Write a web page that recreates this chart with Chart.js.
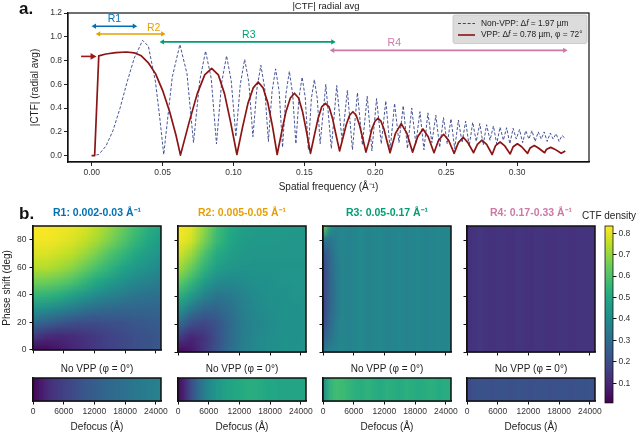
<!DOCTYPE html>
<html>
<head>
<meta charset="utf-8">
<script src="https://cdn.jsdelivr.net/npm/chart.js@4.4.1/dist/chart.umd.min.js"></script>
<style>
  html, body { margin: 0; padding: 0; background: #fff; overflow: hidden; }
  body { width: 640px; height: 438px; position: relative; }
  canvas { position: absolute; }
</style>
</head>
<body>
<script>
// ---- values ----
const xTicks = [0, 0.05, 0.10, 0.15, 0.20, 0.25, 0.30];
const yTicks = [0, 0.2, 0.4, 0.6, 0.8, 1.0, 1.2];

// non-VPP |CTF| radial average (dashed)
const nonVppK = [0, 0.005, 0.010, 0.015, 0.020, 0.025, 0.030, 0.0359, 0.040, 0.045, 0.048, 0.0508,
  0.0568, 0.0622, 0.0672, 0.0718, 0.0762, 0.0803, 0.0843, 0.0880, 0.0916, 0.0951, 0.0984, 0.1017,
  0.1048, 0.1079, 0.1108, 0.1137, 0.1165, 0.1193, 0.1220, 0.1246, 0.1272, 0.1297, 0.1322, 0.1346,
  0.1370, 0.1394, 0.1417, 0.1440, 0.1462, 0.1484, 0.1506, 0.1528, 0.1549, 0.1570, 0.1591, 0.1611,
  0.1651, 0.1690, 0.1728, 0.1766, 0.1803, 0.1839, 0.1874, 0.1909, 0.1943, 0.1976,
  0.2009, 0.2042, 0.2074, 0.2105, 0.2136, 0.2167, 0.2197, 0.2227, 0.2257, 0.2286,
  0.2315, 0.2343, 0.2371, 0.2399, 0.2427, 0.2454, 0.2481, 0.2507, 0.2534, 0.2560,
  0.2586, 0.2612, 0.2637, 0.2662, 0.2687, 0.2712, 0.2737, 0.2761, 0.2785, 0.2809,
  0.2833, 0.2856, 0.2880, 0.2903, 0.2926, 0.2949, 0.2972, 0.2994, 0.3017, 0.3039,
  0.3061, 0.3083, 0.3105, 0.3127, 0.3149, 0.3170, 0.3191, 0.3212, 0.3234, 0.3254,
  0.3275, 0.3296, 0.3317, 0.3335];
const nonVppV = [0, 0.01, 0.08, 0.21, 0.40, 0.62, 0.82, 0.97, 0.92, 0.62, 0.32, 0.01,
  0.66, 0.935, 0.69, 0.11, 0.63, 0.88, 0.65, 0.10, 0.61, 0.84, 0.63, 0.16,
  0.60, 0.81, 0.62, 0.16, 0.56, 0.76, 0.57, 0.12, 0.54, 0.73, 0.54, 0.07,
  0.52, 0.71, 0.52, 0.10, 0.49, 0.66, 0.49, 0.05, 0.48, 0.64, 0.48, 0.10,
  0.60, 0.06, 0.59, 0.12, 0.55, 0.05, 0.53, 0.09, 0.50, 0.04,
  0.48, 0.10, 0.46, 0.05, 0.44, 0.11, 0.42, 0.06, 0.40, 0.10,
  0.37, 0.05, 0.36, 0.11, 0.34, 0.07, 0.32, 0.10, 0.31, 0.06,
  0.30, 0.11, 0.29, 0.08, 0.28, 0.12, 0.27, 0.09, 0.26, 0.13,
  0.25, 0.10, 0.24, 0.13, 0.235, 0.10, 0.23, 0.14, 0.22, 0.11,
  0.21, 0.14, 0.21, 0.12, 0.20, 0.14, 0.20, 0.12, 0.19, 0.14,
  0.185, 0.12, 0.17, 0.15];

// VPP |CTF| radial average (solid)
const vppK = [0, 0.0021, 0.0050, 0.0100, 0.0170, 0.0245, 0.0300, 0.0350, 0.0400, 0.0450, 0.0500, 0.0550, 0.0595, 0.0626,
  0.0687, 0.0744, 0.0797, 0.0846, 0.0893, 0.0937, 0.0980, 0.1024,
  0.1064, 0.1102, 0.1139, 0.1174, 0.1209, 0.1243, 0.1276, 0.1308,
  0.1340, 0.1370, 0.1401, 0.1430, 0.1459, 0.1487, 0.1515, 0.1543,
  0.1570, 0.1596, 0.1622, 0.1648, 0.1674, 0.1699, 0.1724, 0.1748,
  0.1772, 0.1795, 0.1819, 0.1842, 0.1865, 0.1888, 0.1911, 0.1934,
  0.1955, 0.1976, 0.1998, 0.2019, 0.2040, 0.2061, 0.2083, 0.2104,
  0.2143, 0.2183, 0.2222, 0.2263, 0.2299, 0.2336, 0.2373, 0.2414,
  0.2446, 0.2482, 0.2517, 0.2556, 0.2586, 0.2620, 0.2653, 0.2693,
  0.2720, 0.2752, 0.2785, 0.2824, 0.2848, 0.2880, 0.2911, 0.2951,
  0.2972, 0.3002, 0.3032, 0.3074, 0.3092, 0.3121, 0.3150, 0.3194,
  0.3208, 0.3237, 0.3265, 0.3311, 0.3340];
const vppV = [0, 0, 0.84, 0.855, 0.866, 0.872, 0.865, 0.84, 0.78, 0.69, 0.55, 0.37, 0.17, 0.005,
  0.28, 0.52, 0.68, 0.735, 0.68, 0.52, 0.28, 0.01,
  0.24, 0.44, 0.57, 0.62, 0.57, 0.44, 0.24, 0.01,
  0.20, 0.37, 0.485, 0.525, 0.485, 0.37, 0.20, 0.02,
  0.17, 0.31, 0.41, 0.44, 0.41, 0.31, 0.17, 0.04,
  0.15, 0.26, 0.34, 0.37, 0.34, 0.26, 0.15, 0.03,
  0.12, 0.225, 0.29, 0.315, 0.29, 0.225, 0.12, 0.025,
  0.19, 0.27, 0.19, 0.03, 0.16, 0.225, 0.16, 0.025,
  0.13, 0.18, 0.13, 0.02, 0.11, 0.155, 0.11, 0.025,
  0.095, 0.13, 0.095, 0.01, 0.085, 0.115, 0.085, 0.015,
  0.075, 0.10, 0.075, 0.02, 0.065, 0.085, 0.065, 0.025,
  0.055, 0.07, 0.055, 0.02, 0.04];

// frequency ranges R1..R4
const regionNames = ["R1", "R2", "R3", "R4"];
const regionStart = [0.002, 0.005, 0.05, 0.17];
const regionEnd = [0.03, 0.05, 0.17, 0.3335];
const regionLineY = [1.089, 1.024, 0.957, 0.886];
const regionLabelX = [0.016, 0.0437, 0.1108, 0.2134];
const regionLabelY = [1.145, 1.075, 1.013, 0.948];
const regionColors = ["#0072b2", "#e69f00", "#009e73", "#cc79a7"];
const vppMarkK = [-0.0075, 0.0006];
const vppMarkV = [0.835, 0.835];

// heat maps: CTF density vs defocus (A) and phase shift (deg)
const defocusTicks = [0, 6000, 12000, 18000, 24000];
const phaseTicks = [0, 20, 40, 60, 80];
const cbarTicks = [0.1, 0.2, 0.3, 0.4, 0.5, 0.6, 0.7, 0.8];
const defocusCoarse = [0, 2500, 5000, 7500, 10000, 12500, 15000, 17500, 20000, 22500, 25000];
const defocusFine = [0, 1250, 2500, 3750, 5000, 6250, 7500, 8750, 10000, 11250, 12500,
  13750, 15000, 16250, 17500, 18750, 20000, 21250, 22500, 23750, 25000];
const phaseRows = [0, 10, 20, 30, 40, 50, 60, 70, 80, 90];
const phaseEnds = [0, 90];
const panelTitles = ["R1: 0.002-0.03 Å⁻¹", "R2: 0.005-0.05 Å⁻¹", "R3: 0.05-0.17 Å⁻¹", "R4: 0.17-0.33 Å⁻¹"];

const r1Map = [
  [0.02, 0.03, 0.06, 0.09, 0.12, 0.15, 0.17, 0.19, 0.21, 0.22, 0.24],
  [0.15, 0.11, 0.10, 0.11, 0.13, 0.15, 0.17, 0.19, 0.21, 0.22, 0.23],
  [0.29, 0.26, 0.23, 0.21, 0.20, 0.20, 0.21, 0.22, 0.23, 0.24, 0.25],
  [0.43, 0.41, 0.38, 0.35, 0.32, 0.30, 0.29, 0.28, 0.28, 0.28, 0.28],
  [0.55, 0.54, 0.52, 0.48, 0.44, 0.40, 0.37, 0.35, 0.33, 0.32, 0.31],
  [0.66, 0.65, 0.63, 0.60, 0.55, 0.50, 0.46, 0.42, 0.39, 0.37, 0.35],
  [0.74, 0.74, 0.72, 0.69, 0.64, 0.59, 0.54, 0.49, 0.45, 0.42, 0.39],
  [0.79, 0.79, 0.77, 0.75, 0.71, 0.66, 0.60, 0.55, 0.50, 0.46, 0.43],
  [0.82, 0.82, 0.81, 0.79, 0.76, 0.72, 0.67, 0.61, 0.55, 0.50, 0.46],
  [0.83, 0.83, 0.82, 0.81, 0.79, 0.75, 0.70, 0.64, 0.58, 0.53, 0.49]
];
const r2Map = [
  [0.02, 0.06, 0.14, 0.22, 0.30, 0.36, 0.39, 0.41, 0.42, 0.43, 0.43],
  [0.15, 0.09, 0.13, 0.21, 0.29, 0.35, 0.39, 0.41, 0.42, 0.42, 0.43],
  [0.29, 0.20, 0.18, 0.22, 0.29, 0.35, 0.38, 0.40, 0.42, 0.42, 0.43],
  [0.42, 0.33, 0.27, 0.27, 0.31, 0.36, 0.39, 0.41, 0.42, 0.42, 0.43],
  [0.53, 0.45, 0.37, 0.33, 0.34, 0.37, 0.40, 0.42, 0.42, 0.43, 0.43],
  [0.63, 0.55, 0.46, 0.40, 0.39, 0.40, 0.42, 0.42, 0.43, 0.43, 0.43],
  [0.72, 0.64, 0.54, 0.47, 0.44, 0.43, 0.43, 0.43, 0.43, 0.43, 0.43],
  [0.78, 0.71, 0.60, 0.51, 0.47, 0.45, 0.44, 0.44, 0.44, 0.44, 0.44],
  [0.82, 0.78, 0.67, 0.56, 0.50, 0.46, 0.45, 0.45, 0.45, 0.44, 0.44],
  [0.83, 0.80, 0.70, 0.58, 0.51, 0.47, 0.46, 0.45, 0.45, 0.45, 0.45]
];
const r3Map = [
  [0.34, 0.37, 0.37, 0.39, 0.37, 0.385, 0.395, 0.375, 0.385, 0.39, 0.375, 0.38, 0.39, 0.375, 0.385, 0.39, 0.375, 0.38, 0.39, 0.38, 0.385],
  [0.26, 0.32, 0.36, 0.39, 0.37, 0.385, 0.395, 0.375, 0.385, 0.39, 0.375, 0.38, 0.39, 0.375, 0.385, 0.39, 0.375, 0.38, 0.39, 0.38, 0.385],
  [0.20, 0.29, 0.35, 0.385, 0.37, 0.385, 0.395, 0.375, 0.385, 0.39, 0.375, 0.38, 0.39, 0.375, 0.385, 0.39, 0.375, 0.38, 0.39, 0.38, 0.385],
  [0.18, 0.28, 0.34, 0.38, 0.37, 0.385, 0.395, 0.375, 0.385, 0.39, 0.375, 0.38, 0.39, 0.375, 0.385, 0.39, 0.375, 0.38, 0.39, 0.38, 0.385],
  [0.17, 0.27, 0.34, 0.38, 0.37, 0.385, 0.395, 0.375, 0.385, 0.39, 0.375, 0.38, 0.39, 0.375, 0.385, 0.39, 0.375, 0.38, 0.39, 0.38, 0.385],
  [0.17, 0.27, 0.34, 0.38, 0.37, 0.385, 0.395, 0.375, 0.385, 0.39, 0.375, 0.38, 0.39, 0.375, 0.385, 0.39, 0.375, 0.38, 0.39, 0.38, 0.385],
  [0.18, 0.28, 0.34, 0.38, 0.37, 0.385, 0.395, 0.375, 0.385, 0.39, 0.375, 0.38, 0.39, 0.375, 0.385, 0.39, 0.375, 0.38, 0.39, 0.38, 0.385],
  [0.21, 0.29, 0.35, 0.385, 0.37, 0.385, 0.395, 0.375, 0.385, 0.39, 0.375, 0.38, 0.39, 0.375, 0.385, 0.39, 0.375, 0.38, 0.39, 0.38, 0.385],
  [0.33, 0.33, 0.36, 0.39, 0.37, 0.385, 0.395, 0.375, 0.385, 0.39, 0.375, 0.38, 0.39, 0.375, 0.385, 0.39, 0.375, 0.38, 0.39, 0.38, 0.385],
  [0.66, 0.45, 0.38, 0.39, 0.37, 0.385, 0.395, 0.375, 0.385, 0.39, 0.375, 0.38, 0.39, 0.375, 0.385, 0.39, 0.375, 0.38, 0.39, 0.38, 0.385]
];
const r4Map = [
  [0.12, 0.13, 0.14, 0.13, 0.125, 0.135, 0.13, 0.125, 0.135, 0.13, 0.125, 0.135, 0.13, 0.125, 0.13, 0.135, 0.125, 0.13, 0.135, 0.13, 0.13],
  [0.12, 0.13, 0.14, 0.13, 0.125, 0.135, 0.13, 0.125, 0.135, 0.13, 0.125, 0.135, 0.13, 0.125, 0.13, 0.135, 0.125, 0.13, 0.135, 0.13, 0.13]
];
// "No VPP" strips (phase 0) along defocusFine
const strip1 = [0.02, 0.06, 0.10, 0.13, 0.15, 0.17, 0.19, 0.21, 0.23, 0.245, 0.26, 0.275, 0.29, 0.30, 0.31, 0.325, 0.335, 0.345, 0.355, 0.365, 0.375];
const strip2 = [0.03, 0.10, 0.20, 0.28, 0.35, 0.40, 0.44, 0.47, 0.49, 0.50, 0.51, 0.52, 0.52, 0.51, 0.50, 0.50, 0.49, 0.49, 0.49, 0.49, 0.49];
const strip3 = [0.40, 0.54, 0.58, 0.57, 0.55, 0.53, 0.52, 0.54, 0.52, 0.51, 0.53, 0.52, 0.51, 0.53, 0.52, 0.51, 0.52, 0.53, 0.51, 0.52, 0.52];
const strip4 = [0.19, 0.21, 0.22, 0.215, 0.21, 0.22, 0.215, 0.21, 0.22, 0.215, 0.21, 0.215, 0.22, 0.21, 0.215, 0.22, 0.21, 0.215, 0.22, 0.215, 0.215];

// ---- drawing ----
const FONT = "'Liberation Sans', Arial, sans-serif";
Chart.defaults.font.family = FONT;
Chart.defaults.color = "#333";

const viridisStops = ["#440154", "#482475", "#414487", "#355f8d", "#2a788e", "#21918c",
  "#22a884", "#44bf70", "#7ad151", "#bddf26", "#fde725"];
const cMin = 0.008, cMax = 0.834;
function hex(h) { return [1, 3, 5].map(i => parseInt(h.slice(i, i + 2), 16)); }
function viridis(v) {
  let t = Math.min(1, Math.max(0, (v - cMin) / (cMax - cMin))) * (viridisStops.length - 1);
  const i = Math.min(Math.floor(t), viridisStops.length - 2);
  const f = t - i;
  const a = hex(viridisStops[i]), b = hex(viridisStops[i + 1]);
  return a.map((c, k) => Math.round(c + (b[k] - c) * f));
}

function place(area, m) {
  const cv = document.createElement("canvas");
  cv.width = area.w + m.l + m.r;
  cv.height = area.h + m.t + m.b;
  cv.style.left = (area.l - m.l) + "px";
  cv.style.top = (area.t - m.t) + "px";
  document.body.appendChild(cv);
  return cv;
}
const fixedX = h => s => { s.height = h; };
const fixedY = w => s => { s.width = w; };
const useTicks = list => s => { s.ticks = list.map(v => ({ value: v })); };

function framePlugin(width) {
  return {
    id: "frame",
    afterDraw(chart) {
      const { ctx, chartArea: a } = chart;
      ctx.save();
      ctx.strokeStyle = "#111";
      ctx.lineWidth = width;
      ctx.strokeRect(a.left, a.top, a.width, a.height);
      ctx.restore();
    }
  };
}

function notesPlugin(items, ox, oy) {
  return {
    id: "notes",
    afterDraw(chart) {
      const { ctx, chartArea: a, scales } = chart;
      items.forEach(n => {
        let x, y;
        if (n.above !== undefined) { x = (a.left + a.right) / 2; y = a.top - n.above; }
        else if (n.dx !== undefined) { x = scales.x.getPixelForValue(n.dx); y = scales.y.getPixelForValue(n.dy); }
        else { x = n.px - ox; y = n.py - oy; }
        ctx.save();
        ctx.font = n.font;
        ctx.fillStyle = n.color || "#222";
        ctx.textAlign = n.align || "center";
        ctx.textBaseline = "middle";
        ctx.fillText(n.text, x, y);
        ctx.restore();
      });
    }
  };
}

function heatPlugin(map, xs, ys) {
  return {
    id: "heat",
    beforeDatasetsDraw(chart) {
      const { ctx, chartArea: a, scales: { x, y } } = chart;
      const nx = xs.length, ny = map.length;
      const off = document.createElement("canvas");
      off.width = nx; off.height = ny;
      const octx = off.getContext("2d");
      const img = octx.createImageData(nx, ny);
      map.forEach((row, r) => row.forEach((v, c) => {
        const rgb = viridis(v);
        const i = ((ny - 1 - r) * nx + c) * 4;
        img.data[i] = rgb[0]; img.data[i + 1] = rgb[1]; img.data[i + 2] = rgb[2]; img.data[i + 3] = 255;
      }));
      octx.putImageData(img, 0, 0);
      const hx = (xs[1] - xs[0]) / 2;
      const x0 = x.getPixelForValue(xs[0] - hx), x1 = x.getPixelForValue(xs[nx - 1] + hx);
      let y0 = a.top, y1 = a.bottom;
      if (ny > 1) {
        const hy = (ys[1] - ys[0]) / 2;
        y0 = y.getPixelForValue(ys[ny - 1] + hy);
        y1 = y.getPixelForValue(ys[0] - hy);
      }
      ctx.save();
      ctx.beginPath();
      ctx.rect(a.left, a.top, a.width, a.height);
      ctx.clip();
      ctx.imageSmoothingEnabled = true;
      ctx.drawImage(off, x0, y0, x1 - x0, y1 - y0);
      ctx.restore();
    }
  };
}

const colorbarPlugin = {
  id: "colorbar",
  beforeDatasetsDraw(chart) {
    const { ctx, chartArea: a, scales: { y } } = chart;
    for (let py = Math.floor(a.top); py < a.bottom; py++) {
      const rgb = viridis(y.getValueForPixel(py + 0.5));
      ctx.fillStyle = "rgb(" + rgb.join(",") + ")";
      ctx.fillRect(a.left, py, a.width, 1);
    }
  }
};

const legendPlugin = {
  id: "ctfLegend",
  afterDraw(chart) {
    const { ctx, chartArea: a } = chart;
    const bx = a.right - 136, by = a.top + 2, bw = 134, bh = 28.5;
    ctx.save();
    ctx.fillStyle = "#dcdcdc";
    ctx.strokeStyle = "#c4c4c4";
    ctx.lineWidth = 0.8;
    ctx.beginPath();
    ctx.roundRect(bx, by, bw, bh, 2);
    ctx.fill();
    ctx.stroke();
    const rows = [
      { y: by + 8.5, color: "#34428a", dash: [3, 1.8], w: 1, parts: ["Non-VPP: Δ", "f", " = 1.97 µm"] },
      { y: by + 20, color: "#8b1414", dash: [], w: 1.6, parts: ["VPP: Δ", "f", " = 0.78 µm, φ = 72°"] }
    ];
    rows.forEach(r => {
      ctx.strokeStyle = r.color;
      ctx.lineWidth = r.w;
      ctx.setLineDash(r.dash);
      ctx.beginPath();
      ctx.moveTo(bx + 5, r.y);
      ctx.lineTo(bx + 22, r.y);
      ctx.stroke();
      ctx.setLineDash([]);
      ctx.fillStyle = "#222";
      ctx.textBaseline = "middle";
      ctx.textAlign = "left";
      let tx = bx + 28;
      r.parts.forEach((p, i) => {
        ctx.font = (i === 1 ? "italic " : "") + "8.4px " + FONT;
        ctx.fillText(p, tx, r.y);
        tx += ctx.measureText(p).width;
      });
    });
    ctx.restore();
  }
};

// ---- panel a: |CTF| radial average ----
const topArea = { l: 68, t: 13, w: 521, h: 149 };
const topM = { l: 68, t: 13, r: 51, b: 38 };
const topCanvas = place(topArea, topM);

const regionSets = regionNames.map((name, i) => ({
  label: name,
  data: [{ x: regionStart[i], y: regionLineY[i] }, { x: regionEnd[i], y: regionLineY[i] }],
  showLine: true,
  borderColor: regionColors[i],
  backgroundColor: regionColors[i],
  borderWidth: 1.6,
  pointStyle: "triangle",
  pointRadius: 3,
  pointBorderWidth: 0,
  pointRotation: [-90, 90]
}));

new Chart(topCanvas, {
  type: "scatter",
  data: {
    datasets: [
      {
        label: "VPP",
        data: vppK.map((k, i) => ({ x: k, y: vppV[i] })),
        showLine: true, borderColor: "#8b1414", borderWidth: 1.7,
        borderJoinStyle: "round", pointRadius: 0, tension: 0
      },
      {
        label: "Non-VPP",
        data: nonVppK.map((k, i) => ({ x: k, y: nonVppV[i] })),
        showLine: true, borderColor: "#34428a", borderWidth: 0.9, borderDash: [3, 1.8],
        borderJoinStyle: "round", pointRadius: 0, tension: 0
      },
      ...regionSets,
      {
        label: "VPP marker",
        data: vppMarkK.map((k, i) => ({ x: k, y: vppMarkV[i] })),
        showLine: true, borderColor: "#a01818", backgroundColor: "#a01818", borderWidth: 1.6,
        pointStyle: "triangle", pointRadius: [0, 4], pointBorderWidth: 0, pointRotation: [0, 90]
      }
    ]
  },
  options: {
    responsive: false,
    animation: false,
    events: [],
    layout: { padding: { top: topM.t, right: topM.r, left: 0, bottom: 0 } },
    plugins: { legend: { display: false }, tooltip: { enabled: false } },
    scales: {
      x: {
        type: "linear", min: -0.0167, max: 0.3507,
        afterBuildTicks: useTicks(xTicks), afterFit: fixedX(topM.b),
        ticks: { callback: v => v.toFixed(2), autoSkip: false, maxRotation: 0, padding: 2, font: { size: 8.5 }, color: "#333" },
        grid: { drawOnChartArea: false, tickLength: 4, color: "#222" },
        border: { display: true, color: "#111", width: 1.2 },
        title: { display: true, text: "Spatial frequency (Å⁻¹)", font: { size: 10 }, color: "#222", padding: { bottom: 7 } }
      },
      y: {
        type: "linear", min: -0.053, max: 1.2,
        afterBuildTicks: useTicks(yTicks), afterFit: fixedY(topM.l),
        ticks: { callback: v => v.toFixed(1), padding: 2, font: { size: 8.5 }, color: "#333" },
        grid: { drawOnChartArea: false, tickLength: 4, color: "#222" },
        border: { display: true, color: "#111", width: 1.2 },
        title: { display: true, text: "|CTF| (radial avg)", font: { size: 10 }, color: "#222", padding: { top: 29 } }
      }
    }
  },
  plugins: [
    framePlugin(1.2),
    legendPlugin,
    notesPlugin([
      { text: "a.", px: 19, py: 9, font: "bold 17px " + FONT, color: "#111", align: "left" },
      { text: "|CTF| radial avg", px: 326, py: 6.5, font: "9.5px " + FONT, color: "#222" },
      ...regionNames.map((name, i) => ({
        text: name, dx: regionLabelX[i], dy: regionLabelY[i], font: "10.5px " + FONT, color: regionColors[i]
      }))
    ], topArea.l - topM.l, topArea.t - topM.t)
  ]
});

// ---- panel b: CTF density maps ----
const mapLefts = [33, 178, 323, 467];
const maps = [r1Map, r2Map, r3Map, r4Map];
const mapXs = [defocusCoarse, defocusCoarse, defocusFine, defocusFine];
const mapYs = [phaseRows, phaseRows, phaseRows, phaseEnds];
const strips = [strip1, strip2, strip3, strip4];

function heatPanel(area, m, map, xs, ys, o) {
  const cv = place(area, m);
  return new Chart(cv, {
    type: "scatter",
    data: { datasets: [] },
    options: {
      responsive: false,
      animation: false,
      events: [],
      layout: { padding: { top: m.t, right: m.r, left: 0, bottom: 0 } },
      plugins: { legend: { display: false }, tooltip: { enabled: false } },
      scales: {
        x: {
          type: "linear", min: 0, max: 25000,
          afterBuildTicks: useTicks(defocusTicks), afterFit: fixedX(m.b),
          ticks: { display: !!o.xLabels, callback: v => String(v), autoSkip: false, maxRotation: 0, padding: 2, font: { size: 8.5 }, color: "#333" },
          grid: { drawOnChartArea: false, tickLength: 3.5, color: "#111" },
          border: { display: true, color: "#111", width: 1.5 },
          title: { display: !!o.xLabels, text: "Defocus (Å)", font: { size: 10 }, color: "#222", padding: { bottom: 5 } }
        },
        y: {
          type: "linear", min: o.yMin, max: o.yMax,
          afterBuildTicks: useTicks(o.yTicks), afterFit: fixedY(m.l),
          ticks: { display: !!o.yLabels, callback: v => String(v), padding: 3, font: { size: 8.5 }, color: "#333" },
          grid: { drawOnChartArea: false, tickLength: 3.5, color: "#111" },
          border: { display: true, color: "#111", width: 1.5 },
          title: { display: !!o.yLabels, text: "Phase shift (deg)", font: { size: 10 }, color: "#222", padding: { top: 1 } }
        }
      }
    },
    plugins: [heatPlugin(map, xs, ys), framePlugin(1.5), notesPlugin(o.notes, area.l - m.l, area.t - m.t)]
  });
}

mapLefts.forEach((l, i) => {
  const first = i === 0;
  const notes = [{ text: panelTitles[i], above: 13, font: "bold 10.5px " + FONT, color: regionColors[i] }];
  if (first) notes.push({ text: "b.", px: 19, py: 214, font: "bold 17px " + FONT, color: "#111", align: "left" });
  heatPanel({ l: l, t: 226, w: 128, h: 126 }, { l: first ? 33 : 8, t: 20, r: 4, b: 6 },
    maps[i], mapXs[i], mapYs[i],
    { yMin: 0, yMax: 90, yTicks: phaseTicks, yLabels: first, xLabels: false, notes: notes });
  heatPanel({ l: l, t: 378, w: 128, h: 23 }, { l: 8, t: 16, r: 16, b: 37 },
    [strips[i]], defocusFine, [0],
    { yMin: 0, yMax: 1, yTicks: [], yLabels: false, xLabels: true,
      notes: [{ text: "No VPP (φ = 0°)", above: 9, font: "10px " + FONT, color: "#222" }] });
});

// colorbar
const cbArea = { l: 605, t: 226, w: 8, h: 181 };
const cbM = { l: 30, t: 20, r: 27, b: 3 };
new Chart(place(cbArea, cbM), {
  type: "scatter",
  data: { datasets: [] },
  options: {
    responsive: false,
    animation: false,
    events: [],
    layout: { padding: { top: cbM.t, right: 0, left: cbM.l, bottom: cbM.b } },
    plugins: { legend: { display: false }, tooltip: { enabled: false } },
    scales: {
      x: { display: false, min: 0, max: 1 },
      y: {
        position: "right", type: "linear", min: cMin, max: cMax,
        afterBuildTicks: useTicks(cbarTicks), afterFit: fixedY(cbM.r),
        ticks: { callback: v => v.toFixed(1), padding: 2, font: { size: 8.5 }, color: "#333" },
        grid: { drawOnChartArea: false, tickLength: 3.5, color: "#111" },
        border: { display: false }
      }
    }
  },
  plugins: [colorbarPlugin, framePlugin(0.8),
    notesPlugin([{ text: "CTF density", above: 10, font: "10px " + FONT, color: "#222" }], cbArea.l - cbM.l, cbArea.t - cbM.t)]
});
</script>
</body>
</html>
